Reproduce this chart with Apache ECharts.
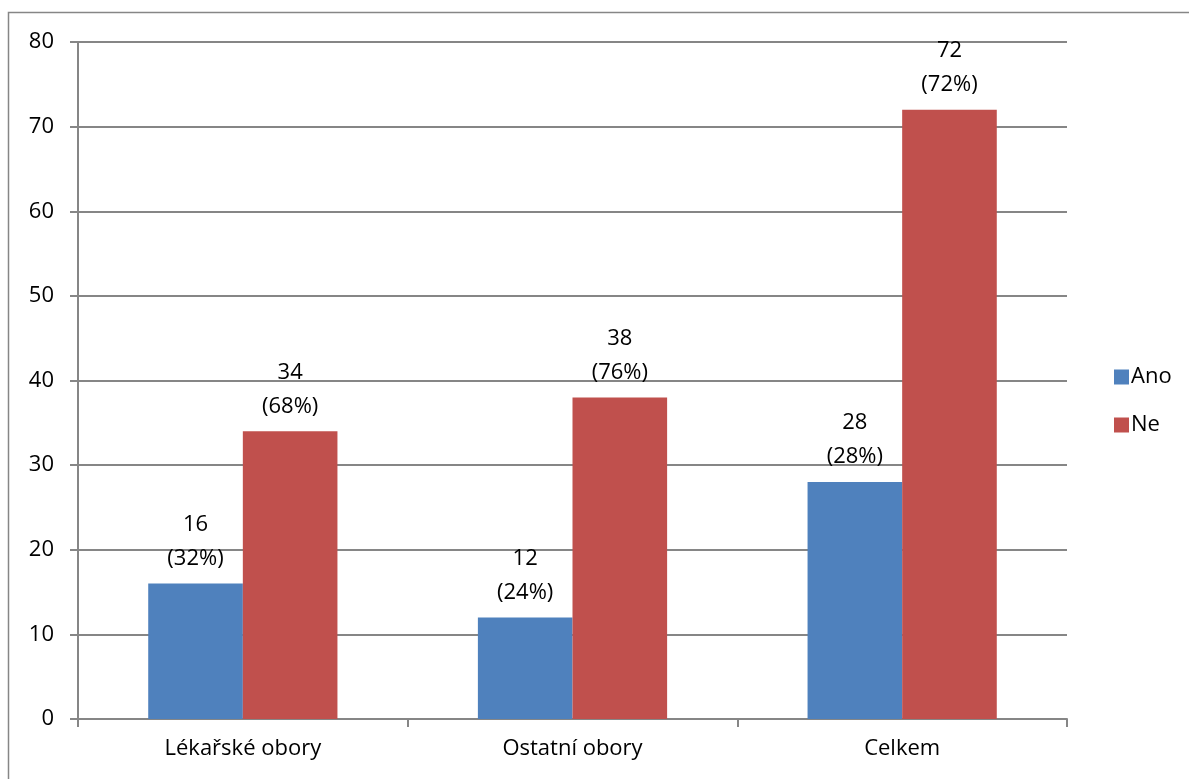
<!DOCTYPE html>
<html>
<head>
<meta charset="utf-8">
<script src="https://cdn.jsdelivr.net/npm/echarts@6/dist/echarts.min.js"></script>
<style>
html,body{margin:0;padding:0;background:#fff;}
#chart{width:1189px;height:779px;}
</style>
</head>
<body>
<div id="chart"></div>
<script>
var categories = ['Lékařské obory', 'Ostatní obory', 'Celkem'];
var anoValues = [16, 12, 28];
var neValues = [34, 38, 72];
var anoPct = ['32%', '24%', '28%'];
var nePct = ['68%', '76%', '72%'];

var myChart = echarts.init(document.getElementById('chart'));
var font = "'Open Sans', 'Liberation Sans', sans-serif";

function labelFor(pcts){
    return {
        show: true,
        position: 'top',
        distance: 8,
        color: '#000',
        fontSize: 22,
        fontFamily: font,
        lineHeight: 34,
        formatter: function(p){
            return p.value + '\n(' + pcts[p.dataIndex] + ')';
        }
    };
}

var option = {
    animation: false,
    backgroundColor: '#fff',
    graphic: [{
        type: 'rect',
        shape: {x: 8.5, y: 12.5, width: 1200, height: 800},
        style: {fill: 'none', stroke: '#868686', lineWidth: 1.5},
        silent: true
    }],
    legend: {
        orient: 'vertical',
        left: 1109,
        top: 361,
        itemWidth: 15,
        itemHeight: 15,
        itemGap: 26,
        icon: 'rect',
        textStyle: {color: '#000', fontSize: 22, fontFamily: font, padding: [0, 0, 0, -3]},
        data: ['Ano', 'Ne']
    },
    grid: {
        left: 78,
        right: 122,
        top: 42,
        bottom: 60,
        containLabel: false
    },
    xAxis: {
        type: 'category',
        data: categories,
        axisLine: {lineStyle: {color: '#868686', width: 2}},
        axisTick: {show: true, length: 8, lineStyle: {color: '#868686', width: 2}},
        axisLabel: {color: '#000', fontSize: 22, fontFamily: font, margin: 19}
    },
    yAxis: {
        type: 'value',
        min: 0,
        max: 80,
        interval: 10,
        axisLine: {show: true, lineStyle: {color: '#868686', width: 2}},
        axisTick: {show: true, length: 8, lineStyle: {color: '#868686', width: 2}},
        splitLine: {lineStyle: {color: '#868686', width: 2}},
        axisLabel: {color: '#000', fontSize: 22, fontFamily: font, margin: 24}
    },
    series: [
        {
            name: 'Ano',
            type: 'bar',
            data: anoValues,
            barGap: '0%',
            barCategoryGap: '42.6%',
            itemStyle: {color: '#4f81bd'},
            label: labelFor(anoPct)
        },
        {
            name: 'Ne',
            type: 'bar',
            data: neValues,
            itemStyle: {color: '#c0504d'},
            label: labelFor(nePct)
        }
    ]
};

myChart.setOption(option);
</script>
</body>
</html>
